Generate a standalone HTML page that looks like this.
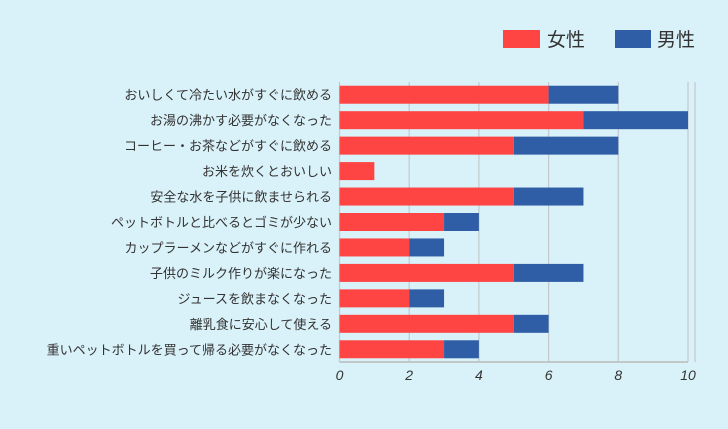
<!DOCTYPE html>
<html><head><meta charset="utf-8"><style>
body{margin:0;background:#d9f1f8;font-family:"Liberation Sans","Noto Sans CJK JP",sans-serif}
</style></head><body>
<svg id="c" width="728" height="424" xmlns="http://www.w3.org/2000/svg">
<rect width="728" height="424" fill="#d9f1f8"/>
<g>
<rect x="503" y="30" width="37" height="18" fill="#ff4444"/>
<text x="547" y="46" font-size="19" fill="#333">女性</text>
<rect x="615" y="30" width="36" height="18" fill="#2f5ea6"/>
<text x="657" y="46" font-size="19" fill="#333">男性</text>
</g>
<g id="plot"></g>
</svg>
<script>
const categories=["おいしくて冷たい水がすぐに飲める","お湯の沸かす必要がなくなった","コーヒー・お茶などがすぐに飲める","お米を炊くとおいしい","安全な水を子供に飲ませられる","ペットボトルと比べるとゴミが少ない","カップラーメンなどがすぐに作れる","子供のミルク作りが楽になった","ジュースを飲まなくなった","離乳食に安心して使える","重いペットボトルを買って帰る必要がなくなった"];
const female=[6,7,5,1,5,3,2,5,2,5,3];
const male=[2,3,3,0,2,1,1,2,1,1,1];
const ticks=[0,2,4,6,8,10];
const NS="http://www.w3.org/2000/svg";
const g=document.getElementById('plot');
const x0=339.5,x1=688,maxV=10,top0=82,bottom=362;
const xs=v=>x0+(x1-x0)*v/maxV;
const step=(bottom-top0)/categories.length;
function mk(t,a){const e=document.createElementNS(NS,t);for(const k in a)e.setAttribute(k,a[k]);g.appendChild(e);return e;}
ticks.forEach((t,i)=>{
 const l=mk('line',{x1:xs(t),x2:xs(t),y1:top0,y2:bottom,stroke:'#c4c9cc','stroke-width':1.2});
 
 
 const tx=mk('text',{x:xs(t),y:380,'font-size':14,'text-anchor':'middle',fill:'#333','font-style':'italic'});
 tx.textContent=t;
 
 
});
const ax=mk('line',{x1:x0,x2:x1,y1:bottom,y2:bottom,stroke:'#bbb','stroke-width':1.5});


const bd=mk('line',{x1:695,x2:695,y1:top0,y2:bottom,stroke:'#c4c9cc','stroke-width':1.2});


categories.forEach((c,i)=>{
 const cy=top0+step*(i+0.5);
 const h=18;
 const r=mk('rect',{x:xs(0),y:cy-h/2,width:xs(female[i])-xs(0),height:h,fill:'#ff4444'});
 
 
 const b=mk('rect',{x:xs(female[i]),y:cy-h/2,width:xs(female[i]+male[i])-xs(female[i]),height:h,fill:'#2f5ea6'});
 
 
 const t=mk('text',{x:332,y:cy+5,'font-size':13,'text-anchor':'end',fill:'#333'});
 t.textContent=c;
 
 
});
</script>
</body></html>
